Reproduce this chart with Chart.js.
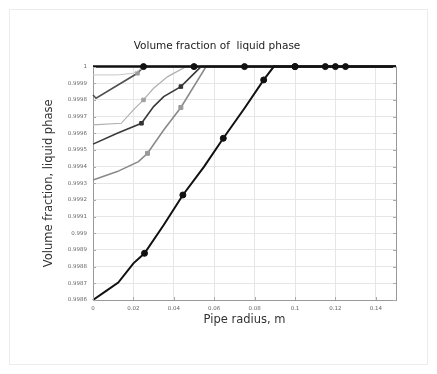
<!DOCTYPE html>
<html>
<head>
<meta charset="utf-8">
<script src="https://cdn.jsdelivr.net/npm/chart.js@4/dist/chart.umd.min.js"></script>
<style>
  html, body { margin: 0; padding: 0; background: #fff; }
  canvas { display: block; }
</style>
</head>
<body>
<canvas id="c" width="437" height="374"></canvas>
<script>
// Axis ticks
const xTickValues = [0, 0.02, 0.04, 0.06, 0.08, 0.1, 0.12, 0.14];
const xTickLabels = ['0', '0.02', '0.04', '0.06', '0.08', '0.1', '0.12', '0.14'];
const yTickValues = [0.9986, 0.9987, 0.9988, 0.9989, 0.999, 0.9991, 0.9992, 0.9993,
                     0.9994, 0.9995, 0.9996, 0.9997, 0.9998, 0.9999, 1];
const yTickLabels = ['0.9986', '0.9987', '0.9988', '0.9989', '0.999', '0.9991', '0.9992', '0.9993',
                     '0.9994', '0.9995', '0.9996', '0.9997', '0.9998', '0.9999', '1'];

// Pipe radius (m) and liquid volume fraction for each curve; mark* = radii carrying a marker
const rTop = [0, 0.025, 0.05, 0.075, 0.1, 0.115, 0.12, 0.125, 0.15];
const fTop = [1, 1, 1, 1, 1, 1, 1, 1, 1];
const markTop = [0.025, 0.05, 0.075, 0.1, 0.115, 0.12, 0.125];

const rA = [0, 0.012, 0.02, 0.026, 0.15];
const fA = [0.99995, 0.99995, 0.99996, 1, 1];
const markA = [];

const rB = [0, 0.0015, 0.022, 0.025, 0.15];
const fB = [0.99983, 0.99981, 0.99996, 1, 1];
const markB = [0.022];

const rC = [0, 0.014, 0.02, 0.025, 0.03, 0.037, 0.046, 0.15];
const fC = [0.99965, 0.99966, 0.99974, 0.9998, 0.99987, 0.99994, 1, 1];
const markC = [0.025];

const rD = [0, 0.012, 0.024, 0.03, 0.035, 0.0435, 0.0535, 0.15];
const fD = [0.999535, 0.9996, 0.99966, 0.99976, 0.99982, 0.99988, 1, 1];
const markD = [0.024, 0.0435];

const rE = [0, 0.012, 0.0225, 0.027, 0.035, 0.0435, 0.056, 0.15];
const fE = [0.99932, 0.99937, 0.99943, 0.99948, 0.99962, 0.999755, 1, 1];
const markE = [0.027, 0.0435];

const rF = [0, 0.006, 0.0125, 0.02, 0.0255, 0.035, 0.0445, 0.055, 0.0645, 0.075, 0.0845, 0.0895, 0.1, 0.15];
const fF = [0.9986, 0.99865, 0.998705, 0.99882, 0.99888, 0.99905, 0.99923, 0.9994, 0.99957, 0.99975, 0.99992, 1, 1, 1];
const markF = [0.0255, 0.0445, 0.0645, 0.0845, 0.1];

function pts(r, f) { return r.map((x, i) => ({ x: x, y: f[i] })); }

function curve(r, f, marks, color, width, markColor, markSize, markStyle) {
  return {
    data: pts(r, f),
    borderColor: color,
    borderWidth: width,
    backgroundColor: markColor,
    pointBackgroundColor: markColor,
    pointBorderColor: markColor,
    pointBorderWidth: 1,
    pointStyle: markStyle,
    pointRadius: ctx => (ctx.raw && marks.includes(ctx.raw.x)) ? markSize : 0,
    tension: 0,
    clip: 8
  };
}

const frame = {
  id: 'frame',
  beforeDraw(chart) {
    const c = chart.ctx;
    c.save();
    c.fillStyle = '#fff';
    c.fillRect(0, 0, chart.width, chart.height);
    c.strokeStyle = '#ececec';
    c.lineWidth = 1;
    c.strokeRect(9.5, 9.5, chart.width - 19, chart.height - 19);
    c.restore();
  },
  afterDatasetsDraw(chart) {
    const a = chart.chartArea;
    const c = chart.ctx;
    const y = chart.scales.y;
    const x = chart.scales.x;
    c.save();
    c.strokeStyle = '#999';
    c.lineWidth = 1;
    c.beginPath();
    c.moveTo(Math.round(a.right) + 0.5, a.top);
    c.lineTo(Math.round(a.right) + 0.5, a.bottom);
    c.stroke();
    // short inward tick marks
    c.strokeStyle = '#aaa';
    c.beginPath();
    yTickValues.forEach(v => {
      const py = Math.round(y.getPixelForValue(v)) + 0.5;
      c.moveTo(a.left, py); c.lineTo(a.left + 3, py);
      c.moveTo(a.right, py); c.lineTo(a.right - 3, py);
    });
    xTickValues.forEach(v => {
      const px = Math.round(x.getPixelForValue(v)) + 0.5;
      c.moveTo(px, a.bottom); c.lineTo(px, a.bottom - 3);
    });
    c.stroke();
    c.restore();
  }
};

const tickFont = { family: 'DejaVu Sans', size: 5.5 };

new Chart(document.getElementById('c'), {
  type: 'line',
  data: {
    datasets: [
      curve(rTop, fTop, markTop, '#111', 2.5, '#111', 3, 'circle'),
      curve(rF, fF, markF, '#111', 2, '#111', 3, 'circle'),
      curve(rA, fA, markA, '#c8c8c8', 1, '#c8c8c8', 2, 'rect'),
      curve(rB, fB, markB, '#505050', 1.6, '#9a9a9a', 2.5, 'rect'),
      curve(rC, fC, markC, '#b0b0b0', 1.2, '#a0a0a0', 2.5, 'rect'),
      curve(rD, fD, markD, '#3a3a3a', 1.6, '#333', 2.5, 'rect'),
      curve(rE, fE, markE, '#8a8a8a', 1.6, '#9a9a9a', 2.8, 'rect')
    ]
  },
  options: {
    responsive: false,
    animation: false,
    devicePixelRatio: 1,
    layout: { padding: { left: 38, right: 41, top: 40, bottom: 43 } },
    plugins: {
      legend: { display: false },
      tooltip: { enabled: false },
      title: {
        display: true,
        text: 'Volume fraction of  liquid phase',
        color: '#222',
        font: { family: 'DejaVu Sans', size: 10.5, weight: 'normal' },
        padding: { top: 0, bottom: 14 }
      }
    },
    scales: {
      x: {
        type: 'linear',
        min: 0,
        max: 0.15,
        afterBuildTicks: s => { s.ticks = xTickValues.map(v => ({ value: v })); },
        afterFit: s => { s.height = 31; },
        ticks: {
          callback: (v) => { const i = xTickValues.indexOf(v); return i >= 0 ? xTickLabels[i] : ''; },
          font: tickFont, color: '#666', padding: 5, maxRotation: 0, autoSkip: false
        },
        grid: { color: '#e6e6e6', drawTicks: false },
        border: { color: '#999' },
        title: {
          display: true,
          text: 'Pipe radius, m',
          color: '#333',
          font: { family: 'DejaVu Sans', size: 11.5 },
          padding: { top: 4, bottom: 4 }
        }
      },
      y: {
        type: 'linear',
        min: 0.9986,
        max: 1,
        afterBuildTicks: s => { s.ticks = yTickValues.map(v => ({ value: v })); },
        afterFit: s => { s.width = 55; },
        ticks: {
          callback: (v) => {
            const i = yTickValues.findIndex(t => Math.abs(t - v) < 1e-9);
            return i >= 0 ? yTickLabels[i] : '';
          },
          font: tickFont, color: '#666', padding: 6, autoSkip: false
        },
        grid: { color: '#e6e6e6', drawTicks: false },
        border: { color: '#999' },
        title: {
          display: true,
          text: 'Volume fraction, liquid phase',
          color: '#333',
          font: { family: 'DejaVu Sans', size: 11.5 },
          padding: { top: 4, bottom: 4 }
        }
      }
    }
  },
  plugins: [frame]
});
</script>
</body>
</html>
